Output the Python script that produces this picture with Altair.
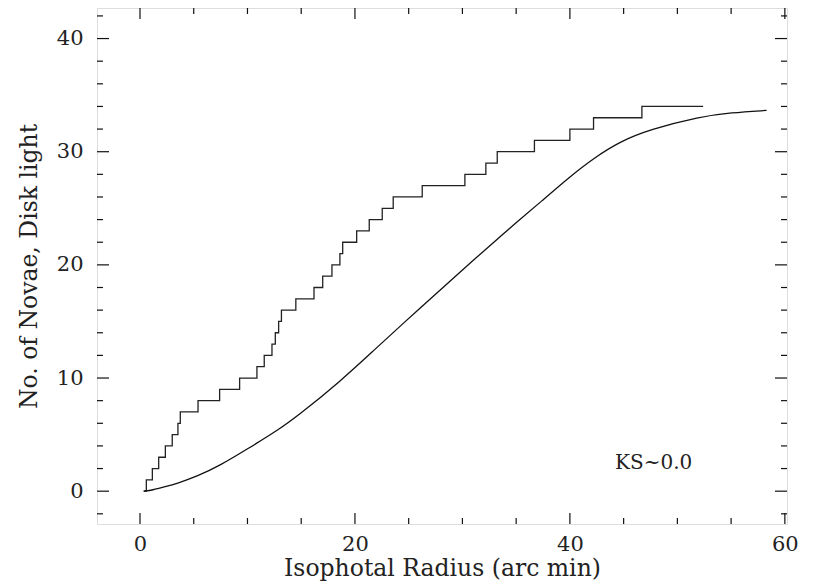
import altair as alt
import pandas as pd

# Cumulative number of novae (step function)
step_x = [0.35, 0.59, 1.15, 1.74, 2.36, 3.0, 3.53, 3.75, 5.4, 7.41,
          9.27, 10.88, 11.56, 12.28, 12.59, 12.9, 13.16, 14.5, 16.19, 17.0,
          17.86, 18.6, 18.86, 20.16, 21.33, 22.54, 23.56, 26.26, 30.23, 32.18,
          33.24, 36.7, 40.0, 42.2, 46.7, 52.4]
step_n = [0, 1, 2, 3, 4, 5, 6, 7, 8, 9,
          10, 11, 12, 13, 14, 15, 16, 17, 18, 19,
          20, 21, 22, 23, 24, 25, 26, 27, 28, 29,
          30, 31, 32, 33, 34, 34]

# Disk light (scaled) smooth curve
model_x = [0.34, 1.2, 2.2, 3.5, 5.3, 7.5, 9.95, 13.0, 14.6, 18.6, 21.86, 24.8,
           26.67, 29.46, 33.5, 35.35, 37.2, 40.0, 42.17, 44.65, 47.4, 52.1, 55.0, 58.3]
model_y = [0.0, 0.1, 0.36, 0.7, 1.3, 2.3, 3.7, 5.5, 6.6, 9.67, 12.54, 15.1,
           16.7, 19.1, 22.5, 24.0, 25.5, 27.8, 29.4, 30.9, 31.95, 33.1, 33.45, 33.65]

# Axis ticks
x_major = [0, 20, 40, 60]
x_minor = [5, 10, 15, 25, 30, 35, 45, 50, 55]
y_major = [0, 10, 20, 30, 40]
y_minor = [-2, 2, 4, 6, 8, 12, 14, 16, 18, 22, 24, 26, 28, 32, 34, 36, 38, 42]

annot_text = ["KS~0.0"]
annot_x = [44.2]
annot_y = [1.95]

FONT = "DejaVu Serif"
W, H = 690, 516

xs = alt.Scale(domain=[-4, 60.2], nice=False, zero=False)
ys = alt.Scale(domain=[-2.9, 42.7], nice=False, zero=False)

x_axis = alt.Axis(
    title="Isophotal Radius (arc min)", values=x_major, format="d",
    ticks=False, domain=False, grid=False, labelPadding=9,
    labelFont=FONT, labelFontSize=21, labelColor="#222",
    titleFont=FONT, titleFontSize=23.5, titleFontWeight="normal",
    titleColor="#222", titlePadding=2)
y_axis = alt.Axis(
    title="No. of Novae, Disk light", values=y_major, format="d",
    ticks=False, domain=False, grid=False, labelPadding=14,
    labelFont=FONT, labelFontSize=21, labelColor="#222",
    titleFont=FONT, titleFontSize=23.5, titleFontWeight="normal",
    titleColor="#222", titlePadding=15)

steps = pd.DataFrame({"r": step_x, "n": step_n})
model = pd.DataFrame({"r": model_x, "n": model_y})

step_line = alt.Chart(steps).mark_line(
    interpolate="step-after", color="#222", strokeWidth=1.3
).encode(
    x=alt.X("r:Q", scale=xs, axis=x_axis),
    y=alt.Y("n:Q", scale=ys, axis=y_axis),
)

model_line = alt.Chart(model).mark_line(
    interpolate="basis", color="#111", strokeWidth=1.3
).encode(
    x=alt.X("r:Q", scale=xs, axis=x_axis),
    y=alt.Y("n:Q", scale=ys, axis=y_axis),
)

annot = alt.Chart(pd.DataFrame({"t": annot_text, "x": annot_x, "y": annot_y})).mark_text(
    align="left", baseline="alphabetic", font=FONT, fontSize=20, color="#222"
).encode(
    x=alt.X("x:Q", scale=xs, axis=x_axis),
    y=alt.Y("y:Q", scale=ys, axis=y_axis),
    text="t:N",
)

def xticks(vals, length):
    df = pd.DataFrame({"v": vals})
    base = alt.Chart(df).mark_rule(color="#111", strokeWidth=1.2)
    bottom = base.encode(x=alt.X("v:Q", scale=xs, axis=x_axis),
                         y=alt.value(H), y2=alt.value(H - length))
    top = base.encode(x=alt.X("v:Q", scale=xs, axis=x_axis),
                      y=alt.value(0), y2=alt.value(length))
    return [bottom, top]

def yticks(vals, length):
    df = pd.DataFrame({"v": vals})
    base = alt.Chart(df).mark_rule(color="#111", strokeWidth=1.2)
    left = base.encode(y=alt.Y("v:Q", scale=ys, axis=y_axis),
                       x=alt.value(0), x2=alt.value(length))
    right = base.encode(y=alt.Y("v:Q", scale=ys, axis=y_axis),
                        x=alt.value(W), x2=alt.value(W - length))
    return [left, right]

layers = [step_line, model_line, annot]
layers += xticks(x_major, 11) + xticks(x_minor, 6)
layers += yticks(y_major, 12) + yticks(y_minor, 6)

chart = alt.layer(*layers).properties(
    width=W, height=H,
    autosize=alt.AutoSizeParams(type="none"),
    padding={"left": 89, "top": 0, "right": 20, "bottom": 62},
).configure_view(
    stroke="#111", strokeWidth=1.3
).configure(background="white")

chart.save("out.html", embed_options={"renderer": "svg", "actions": False})
